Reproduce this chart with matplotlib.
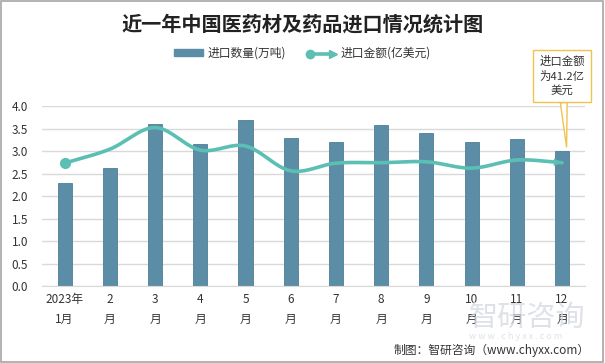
import numpy as np
import matplotlib
matplotlib.use("Agg")
import matplotlib.pyplot as plt
from matplotlib.lines import Line2D
from matplotlib.patches import Patch, Rectangle

plt.rcParams['font.family'] = ['Noto Sans CJK SC', 'DejaVu Sans']

months = ["2023年\n1月", "2\n月", "3\n月", "4\n月", "5\n月", "6\n月",
          "7\n月", "8\n月", "9\n月", "10\n月", "11\n月", "12\n月"]
qty = [2.29, 2.62, 3.60, 3.15, 3.68, 3.30, 3.19, 3.57, 3.41, 3.21, 3.26, 3.01]
amount = [2.73, 3.04, 3.52, 3.02, 3.11, 2.56, 2.73, 2.74, 2.76, 2.62, 2.80, 2.74]

BAR_C = "#5b8ea6"
LINE_C = "#5cbfb4"
GRID_C = "#d9d9d9"


def smooth(x, y, n=20):
    # catmull-rom style smoothing through the points
    x = np.asarray(x, float)
    y = np.asarray(y, float)
    px = np.concatenate([[2 * x[0] - x[1]], x, [2 * x[-1] - x[-2]]])
    py = np.concatenate([[2 * y[0] - y[1]], y, [2 * y[-1] - y[-2]]])
    xs, ys = [], []
    t = np.linspace(0, 1, n, endpoint=False)
    for i in range(1, len(px) - 2):
        for arr, out in ((px, xs), (py, ys)):
            p0, p1, p2, p3 = arr[i - 1], arr[i], arr[i + 1], arr[i + 2]
            out.extend(0.5 * (2 * p1 + (-p0 + p2) * t
                              + (2 * p0 - 5 * p1 + 4 * p2 - p3) * t ** 2
                              + (-p0 + 3 * p1 - 3 * p2 + p3) * t ** 3))
    xs.append(x[-1])
    ys.append(y[-1])
    return np.array(xs), np.array(ys)


class LineArrowHandler:
    # legend key: dot on the left, arrow head on the right
    def legend_artist(self, legend, orig_handle, fontsize, handlebox):
        x0, y0 = handlebox.xdescent, handlebox.ydescent
        w, h = handlebox.width, handlebox.height
        yc = y0 + h / 2
        arts = [Line2D([x0 + 2, x0 + w - 3], [yc, yc], color=LINE_C, lw=2.6),
                Line2D([x0 + 2], [yc], marker='o', ms=6, color=LINE_C),
                Line2D([x0 + w - 2], [yc], marker='>', ms=6, color=LINE_C)]
        for a in arts:
            a.set_transform(handlebox.get_transform())
            handlebox.add_artist(a)
        return arts[0]


fig = plt.figure(figsize=(6.05, 3.63), dpi=100)
fig.patches.append(Rectangle((0.002, 0.003), 0.995, 0.994, transform=fig.transFigure,
                             fill=False, ec="#a6a6a6", lw=1.2))
ax = fig.add_axes([0.0694, 0.212, 0.897, 0.496])

x = np.arange(len(months))
ax.bar(x, qty, width=0.31, color=BAR_C, edgecolor="#4f7f96", lw=0.6, zorder=2)

sx, sy = smooth(x, amount)
ax.plot(sx, sy, color=LINE_C, lw=2.6, zorder=3, solid_capstyle='round')
ax.plot(x[0], amount[0], 'o', color=LINE_C, ms=7, zorder=4)
ax.annotate("", xy=(x[-1] + 0.05, amount[-1]), xytext=(x[-1] - 0.3, amount[-1] + 0.02),
            arrowprops=dict(arrowstyle='-|>', color=LINE_C, lw=0, mutation_scale=14), zorder=4)

ax.set_xlim(-0.5, 11.5)
ax.set_ylim(0, 4)
ax.set_yticks(np.arange(0, 4.01, 0.5))
ax.set_yticklabels([f"{v:.1f}" for v in np.arange(0, 4.01, 0.5)])
ax.set_xticks(x)
ax.set_xticklabels(months, linespacing=1.7)
ax.grid(axis='y', color=GRID_C, lw=1, zorder=0)
for s in ["top", "right", "left"]:
    ax.spines[s].set_visible(False)
ax.spines["bottom"].set_color(GRID_C)
ax.tick_params(axis='both', length=0, labelsize=8.5, colors="#333333")
ax.tick_params(axis='y', pad=10)
ax.tick_params(axis='x', pad=5)

fig.text(0.5, 0.935, "近一年中国医药材及药品进口情况统计图", ha='center', va='center',
         fontsize=14.5, fontweight='bold', color="#222222")

h_bar = Patch(facecolor=BAR_C, edgecolor=BAR_C)
h_line = Line2D([], [], color=LINE_C)
fig.legend([h_bar, h_line], ["进口数量(万吨)", "进口金额(亿美元)"],
           handler_map={h_line: LineArrowHandler()},
           loc='center', bbox_to_anchor=(0.5, 0.853), ncol=2, frameon=False,
           fontsize=8.5, handlelength=2.4, handleheight=0.6, columnspacing=1.8,
           handletextpad=0.4, labelcolor="#333333")

# callout
ax.annotate("进口金额\n为41.2亿\n美元", xy=(11.1, 3.09), xytext=(11.0, 4.67),
            textcoords='data', ha='center', va='center', fontsize=8.2, color="#333333",
            linespacing=1.4, annotation_clip=False,
            bbox=dict(boxstyle='square,pad=0.55', fc='white', ec="#f2c24f", lw=1),
            arrowprops=dict(arrowstyle='wedge,tail_width=0.6,shrink_factor=0.5',
                            fc='white', ec="#f2c24f", lw=1, shrinkA=0, shrinkB=0))

# watermark
fig.text(0.775, 0.125, "智研咨询", fontsize=21, color="#d3d8df", ha='left', va='center',
         alpha=0.75)
fig.text(0.775, 0.072, "w w w . c h y x x . c o m", fontsize=6.5, color="#d3d8df",
         ha='left', va='center', alpha=0.75)
fig.text(0.975, 0.034, "制图：智研咨询（www.chyxx.com）", ha='right', va='center',
         fontsize=8.5, color="#333333")

fig.savefig("out.png", dpi=100)
